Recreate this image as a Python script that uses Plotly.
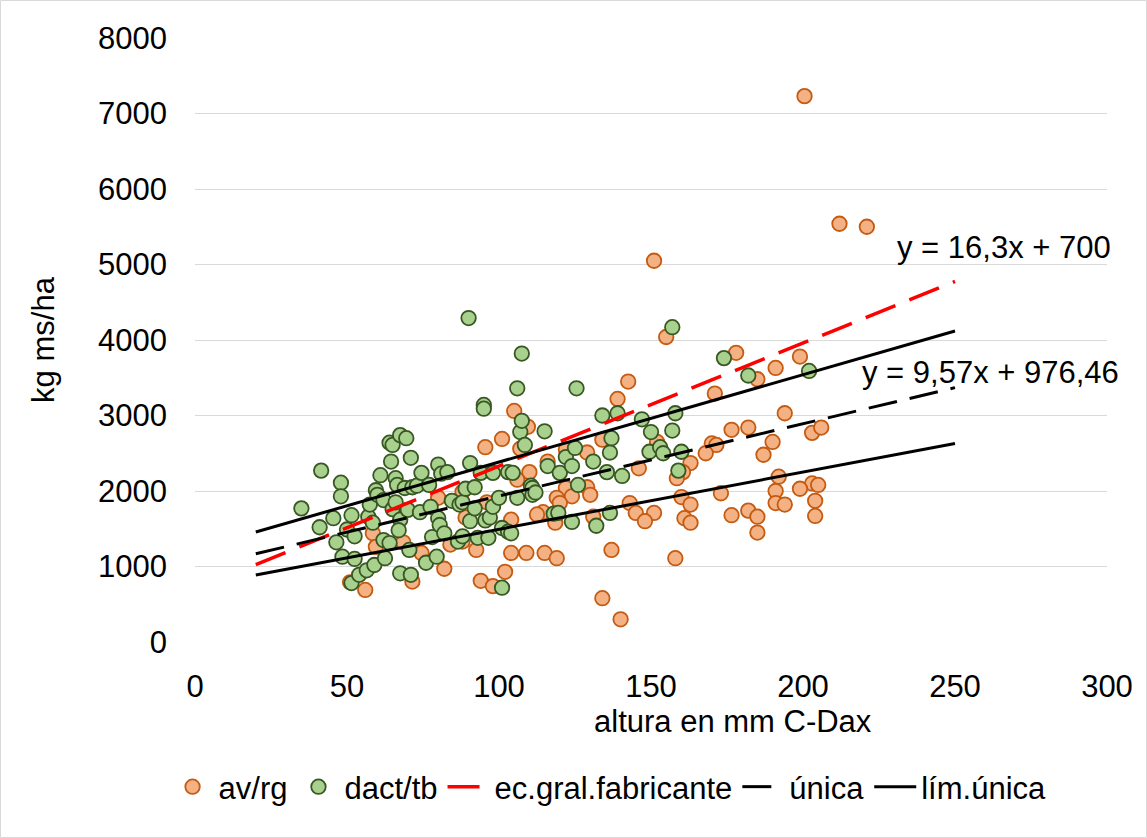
import numpy as np
import plotly.graph_objects as go

# ---- data: av/rg (orange) ----
av_x = [200.5, 212, 221, 151, 155, 178, 199, 191, 185, 142.5, 171, 139, 105, 194, 134,
        109.5, 101, 176.5, 182, 203, 206, 152, 190, 170, 171.5, 95.5, 107, 122, 129, 168,
        187, 116, 163, 146, 160.5, 110, 158.5, 106, 192, 122, 129, 203, 205, 199, 191,
        130, 124, 173, 160, 119, 80, 88, 204, 96, 120, 143, 191, 194, 163, 182, 114.5,
        112.5, 151, 145, 131, 176.5, 204, 185, 89, 104, 161, 148, 163, 118.5, 185, 58.5,
        88, 68.5, 84, 59.5, 92.5, 137, 104, 109, 115, 74.5, 119, 158, 82, 102, 94, 71.5,
        51, 98, 56, 134, 140]
av_y = [7230, 5540, 5500, 5050, 4040, 3830, 3780, 3630, 3480, 3450, 3290, 3220, 3060, 3030, 2680,
        2850, 2690, 2810, 2840, 2770, 2840, 2650, 2650, 2630, 2610, 2580, 2560, 2550, 2510, 2500,
        2480, 2390, 2370, 2300, 2250, 2250, 2170, 2150, 2190, 2040, 2050, 2100, 2080, 2030, 2000,
        1950, 1930, 1970, 1920, 1910, 1910, 1990, 1870, 1850, 1840, 1840, 1840, 1820, 1820, 1740, 1720,
        1690, 1710, 1710, 1660, 1680, 1670, 1660, 1650, 1620, 1640, 1600, 1580, 1580, 1450, 1440,
        1330, 1320, 1290, 1260, 1220, 1220, 1180, 1180, 1180, 1180, 1110, 1110, 970, 930, 810, 800,
        790, 740, 690, 580, 300]

# ---- data: dact/tb (green) ----
dt_x = [35, 41.5, 41, 45.5, 46.5, 48, 48, 48.5, 50, 51.5, 51.5, 52.5, 52.5, 54, 56.5, 57, 57.5,
        58.5, 59, 59.5, 60, 61, 62, 62.5, 62, 64, 64.5, 64, 65, 65, 66, 66, 66.5, 67.5, 67.5,
        67.5, 67, 69.5, 69, 70, 70.5, 71, 71, 71.5, 73, 74, 74.5, 76, 77, 77.5, 78, 79.5, 80,
        80, 80.5, 81, 82, 83, 84.5, 86.5, 87, 88, 88, 89, 90, 90.5, 90.5, 92, 92, 93, 94, 95,
        95, 95.5, 96.5, 97, 98, 98, 100, 101, 101, 103, 103, 104, 104.5, 106, 106, 107, 107.5,
        107.5, 108.5, 110.5, 111, 111, 112, 115, 116, 118, 119.5, 120, 122, 124, 124, 125,
        125.5, 126, 131, 132, 134, 135.5, 136.5, 136.5, 137, 139, 140.5, 147, 149.5, 150, 153,
        154, 157, 157, 158, 159, 160, 174, 182, 202]
dt_y = [1770, 2270, 1520, 1640, 1320, 2110, 1930, 1130, 1490, 1680, 780, 1400, 1100, 890, 950, 1660, 1820,
        1580, 1020, 2010, 1950, 2210, 1350, 1110, 1880, 2640, 2390, 1310, 2610, 1760, 1850, 2170, 2080, 2740, 1620,
        910, 1480, 2700, 2040, 1750, 1220, 2440, 890, 2050, 2070, 1720, 2240, 1050, 2080, 1790, 1390, 1130, 2350,
        1640, 1550, 2230, 1440, 2250, 1870, 1330, 1820, 1850, 1400, 2030, 4290, 2370, 1600, 2050, 1770, 1380, 2240, 3140,
        3090, 1610, 1380, 1650, 2240, 1790, 1910, 720, 1510, 2250, 1460, 1440, 2240, 3360, 1910, 2780, 2930,
        3820, 2610, 2070, 2040, 1950, 1980, 2790, 2330, 1700, 1710, 2240, 2450, 2330, 1590, 2570,
        3360, 2080, 2390, 1540, 3000, 2250, 2510, 1710, 2700, 3030, 2200, 2950, 2520, 2780, 2580,
        2500, 2800, 4170, 3030, 2270, 2520, 3760, 3530, 3590]

# ---- trend lines (slope, intercept) ----
line_x_range = [20, 250]
fab_coef = (16.3, 700)          # ec.gral.fabricante
unica_coef = (9.57, 976.46)     # única
lim_sup_coef = (11.58, 1225)    # lím.única (upper)
lim_inf_coef = (7.57, 736)      # lím.única (lower)

eq_labels = ["y = 16,3x + 700", "y = 9,57x + 976,46"]
x_title = "altura en mm C-Dax"
y_title = "kg ms/ha"

FONT = "Liberation Sans, Arial, sans-serif"
FS = 31

xl = np.array(line_x_range, dtype=float)

def line_y(c):
    return c[0] * xl + c[1]

L, R, T, B = 195, 40, 38, 196
pw, ph = 1147 - L - R, 838 - T - B

fig = go.Figure()
fig.add_trace(go.Scatter(
    x=av_x, y=av_y, mode="markers", name="av/rg",
    marker=dict(size=14.5, color="#F4B183", line=dict(color="#C55A11", width=1.8))))
fig.add_trace(go.Scatter(
    x=dt_x, y=dt_y, mode="markers", name="dact/tb",
    marker=dict(size=14.5, color="#A9D18E", line=dict(color="#385723", width=1.8))))
fig.add_trace(go.Scatter(
    x=xl, y=line_y(fab_coef), mode="lines", name="ec.gral.fabricante",
    line=dict(color="#FF0000", width=3.5, dash="32px,15px")))
fig.add_trace(go.Scatter(
    x=xl, y=line_y(unica_coef), mode="lines", name="única",
    line=dict(color="#000000", width=3, dash="29px,13px")))
fig.add_trace(go.Scatter(
    x=xl, y=line_y(lim_sup_coef), mode="lines", name="lím.única",
    line=dict(color="#000000", width=3), legendgroup="lim"))
fig.add_trace(go.Scatter(
    x=xl, y=line_y(lim_inf_coef), mode="lines", name="lím.única",
    line=dict(color="#000000", width=3), legendgroup="lim", showlegend=False))

fig.add_annotation(xref="paper", yref="paper", x=(1113 - L) / pw, y=(642 - 247) / ph,
                   text=eq_labels[0], showarrow=False, xanchor="right", yanchor="middle",
                   font=dict(size=FS, color="#000000", family=FONT))
fig.add_annotation(xref="paper", yref="paper", x=(1121 - L) / pw, y=(642 - 372) / ph,
                   text=eq_labels[1], showarrow=False, xanchor="right", yanchor="middle",
                   font=dict(size=FS, color="#000000", family=FONT))
# x axis title
fig.add_annotation(xref="paper", yref="paper", x=(733 - L) / pw, y=(642 - 721) / ph,
                   text=x_title, showarrow=False, xanchor="center", yanchor="middle",
                   font=dict(size=FS, color="#000000", family=FONT))

fig.add_shape(type="rect", xref="paper", yref="paper",
              x0=(0.5 - L) / pw, x1=(1146.5 - L) / pw,
              y0=-(B - 0.5) / ph, y1=(ph + T - 0.5) / ph,
              line=dict(color="#D9D9D9", width=1), fillcolor="rgba(0,0,0,0)", layer="below")

fig.update_layout(
    width=1147, height=838,
    margin=dict(l=L, r=R, t=T, b=B),
    paper_bgcolor="white", plot_bgcolor="white",
    font=dict(family=FONT, size=FS, color="#000000"),
    showlegend=True,
    legend=dict(orientation="h", x=0.454, xanchor="center", y=(642 - 787) / ph, yanchor="middle",
                font=dict(size=FS), itemwidth=42, traceorder="normal"),
    xaxis=dict(range=[0, 300], dtick=50, showgrid=False, zeroline=False, showline=False,
               ticks="", ticklabelstandoff=23),
    yaxis=dict(range=[0, 8000], dtick=1000, showgrid=True, gridcolor="#D9D9D9", gridwidth=1.3,
               zeroline=False, showline=False, ticks="", ticklabelstandoff=27,
               title=dict(text=y_title, standoff=34, font=dict(size=FS))),
)

fig.write_html("out.html")
